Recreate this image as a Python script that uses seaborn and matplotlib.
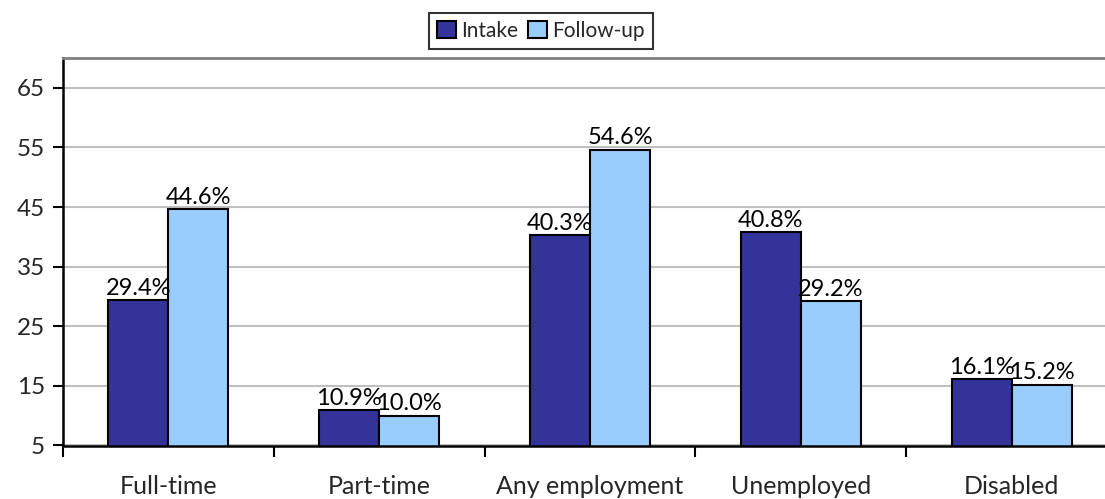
import matplotlib
matplotlib.use("Agg")
import matplotlib.pyplot as plt
import seaborn as sns
import pandas as pd
import numpy as np

categories = ["Full-time", "Part-time", "Any employment", "Unemployed", "Disabled"]
intake = [29.4, 10.9, 40.3, 40.8, 16.1]
follow_up = [44.6, 10.0, 54.6, 29.2, 15.2]
series_names = ["Intake", "Follow-up"]
y_ticks = [5, 15, 25, 35, 45, 55, 65]

sns.set_theme(style="white")
plt.rcParams["font.family"] = ["Lato", "DejaVu Sans"]

df = pd.DataFrame({
    "category": categories * 2,
    "series": [series_names[0]] * len(categories) + [series_names[1]] * len(categories),
    "value": intake + follow_up,
})

fig = plt.figure(figsize=(11.05, 4.99), dpi=100)
ax = fig.add_axes([63 / 1105, 1 - 445.5 / 499, (1117 - 63) / 1105, (445.5 - 58) / 499])

palette = {"Intake": "#333399", "Follow-up": "#99CCFF"}
sns.barplot(data=df, x="category", y="value", hue="series", order=categories,
            hue_order=series_names, palette=palette, width=0.57, dodge=True,
            edgecolor="black", linewidth=1.5, ax=ax, legend=True, saturation=1)

# value labels above each bar
for container in ax.containers:
    labels = [f"{v:.1f}%" for v in container.datavalues]
    ax.bar_label(container, labels=labels, padding=1, fontsize=17, color="black")

ax.set_ylim(5, 70)
ax.set_xlim(-0.5, 4.5)
ax.set_yticks(y_ticks)
ax.tick_params(axis="y", length=7, width=1.5, color="black", labelsize=17.5, pad=6, left=True)
ax.yaxis.grid(True, color="#C0C0C0", linewidth=1.5)
ax.set_axisbelow(True)

# category labels centred, tick marks between categories
ax.set_xticks(range(len(categories)))
ax.set_xticklabels(categories, fontsize=18)
ax.tick_params(axis="x", which="major", length=0, pad=21)
ax.set_xticks(np.arange(-0.5, len(categories), 1.0), minor=True)
ax.tick_params(axis="x", which="minor", length=8, width=1.5, color="black", bottom=True)

ax.set_xlabel("")
ax.set_ylabel("")

for side in ["left", "bottom"]:
    ax.spines[side].set_color("black")
    ax.spines[side].set_linewidth(1.8)
ax.spines["top"].set_color("#808080")
ax.spines["top"].set_linewidth(2)
ax.spines["right"].set_visible(False)

handles, labels = ax.get_legend_handles_labels()
ax.get_legend().remove()
leg = fig.legend(handles, labels, loc="center", bbox_to_anchor=(541 / 1105, 1 - 31 / 499),
                 ncol=2, frameon=True, fontsize=15, handlelength=0.9, handleheight=0.9,
                 handletextpad=0.25, columnspacing=0.5, borderpad=0.4, fancybox=False)
leg.get_frame().set_edgecolor("black")
leg.get_frame().set_linewidth(1.5)

fig.savefig("out.png", dpi=100)
